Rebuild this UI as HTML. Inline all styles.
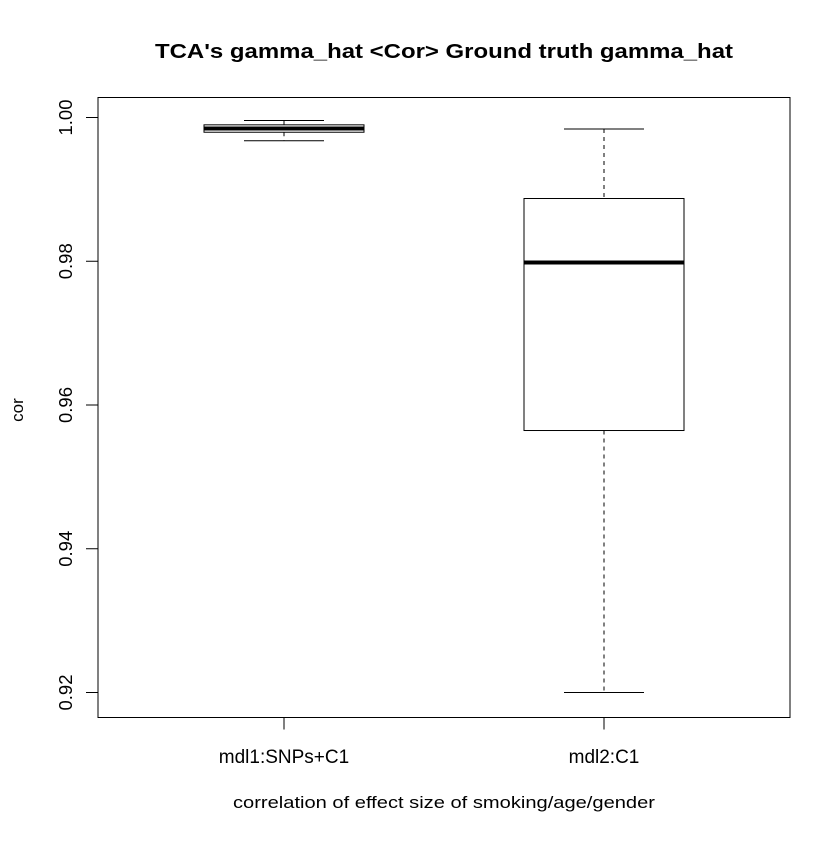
<!DOCTYPE html>
<html><head><meta charset="utf-8"><style>body{margin:0;background:#fff}svg text{font-family:"Liberation Sans",sans-serif}</style></head>
<body>
<svg id="c" width="840" height="840" xmlns="http://www.w3.org/2000/svg">
<rect width="840" height="840" fill="#fff"/>
<text x="444" y="58" text-anchor="middle" font-size="20" font-weight="bold" textLength="578" lengthAdjust="spacingAndGlyphs">TCA's gamma_hat &lt;Cor&gt; Ground truth gamma_hat</text>
<rect x="98" y="97.5" width="692" height="620" fill="none" stroke="#000" stroke-width="1"/>
<text x="444" y="808" text-anchor="middle" font-size="17" textLength="422" lengthAdjust="spacingAndGlyphs">correlation of effect size of smoking/age/gender</text>
<text transform="translate(23,410) rotate(-90)" text-anchor="middle" font-size="17">cor</text>
<g id="g"></g>
</svg>
<script>
const categories = ["mdl1:SNPs+C1", "mdl2:C1"];
const whiskerLow = [0.99676, 0.9200];
const q1 = [0.99795, 0.95645];
const medians = [0.99847, 0.97983];
const q3 = [0.99898, 0.98873];
const whiskerHigh = [0.99958, 0.9984];
const yTicks = [0.92, 0.94, 0.96, 0.98, 1.00];
const yTickLabels = ["0.92", "0.94", "0.96", "0.98", "1.00"];

const y = v => 117.5 + (1 - v) * 7187.5;
const x = i => 284 + i * 320;
const NS = "http://www.w3.org/2000/svg";
const g = document.getElementById('g');
function mk(tag, attrs, parent) {
  const e = document.createElementNS(NS, tag);
  for (const k in attrs) e.setAttribute(k, attrs[k]);
  (parent || g).appendChild(e);
  return e;
}
yTicks.forEach((t, i) => {
  const l = mk('line', {x1: 86, x2: 98, y1: y(t), y2: y(t), stroke: '#000'});
  
  
  const tx = mk('text', {transform: `translate(72,${y(t)}) rotate(-90)`, 'text-anchor': 'middle', 'font-size': 18.5});
  tx.textContent = yTickLabels[i];
  
  
});
categories.forEach((c, i) => {
  const cx = x(i);
  const grp = mk('g', {});
  
  
  const tk = mk('line', {x1: cx, x2: cx, y1: 717.5, y2: 729.5, stroke: '#000'}, grp);
  
  
  const tl = mk('text', {x: cx, y: 763, 'text-anchor': 'middle', 'font-size': 19}, grp);
  tl.textContent = c;
  
  
  const w1 = mk('line', {x1: cx, x2: cx, y1: y(whiskerHigh[i]), y2: y(q3[i]), stroke: '#000', 'stroke-dasharray': '4,4'}, grp);
  
  
  const w2 = mk('line', {x1: cx, x2: cx, y1: y(q1[i]), y2: y(whiskerLow[i]), stroke: '#000', 'stroke-dasharray': '4,4'}, grp);
  
  
  const c1 = mk('line', {x1: cx - 40, x2: cx + 40, y1: y(whiskerHigh[i]), y2: y(whiskerHigh[i]), stroke: '#000'}, grp);
  
  
  const c2 = mk('line', {x1: cx - 40, x2: cx + 40, y1: y(whiskerLow[i]), y2: y(whiskerLow[i]), stroke: '#000'}, grp);
  
  
  const b = mk('rect', {x: cx - 80, y: y(q3[i]), width: 160, height: y(q1[i]) - y(q3[i]), fill: '#fff', stroke: '#000'}, grp);
  
  
  const m = mk('line', {x1: cx - 80, x2: cx + 80, y1: y(medians[i]), y2: y(medians[i]), stroke: '#000', 'stroke-width': 4}, grp);
  
  
});
</script>
</body></html>
